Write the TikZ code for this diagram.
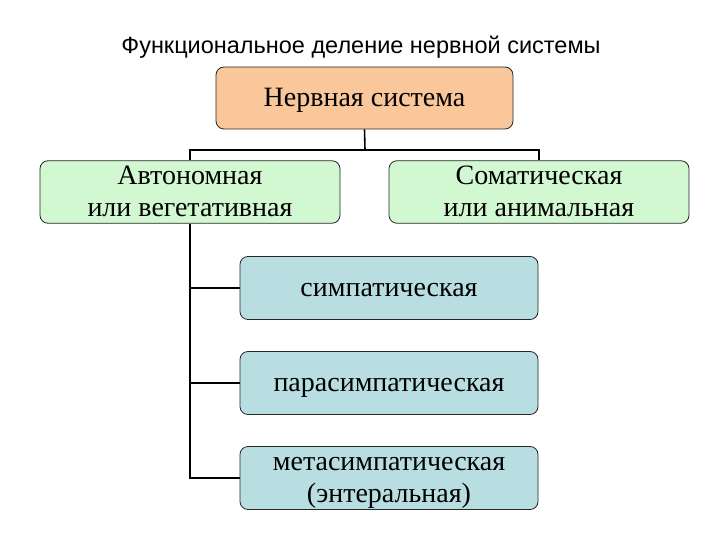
\documentclass[tikz,border=0pt]{standalone}
\usepackage{fontspec}
\setmainfont{Liberation Serif}
\newfontfamily\titlefont{Liberation Sans}
\definecolor{peach}{HTML}{FAC79A}
\definecolor{palegreen}{HTML}{D2F8D2}
\definecolor{paleblue}{HTML}{B9DEE2}
\begin{document}
\begin{tikzpicture}[x=1pt,y=-1pt,
  box/.style={draw=black!85,line width=0.8pt,rounded corners=8pt,inner sep=0pt,align=center,font=\fontsize{28}{32}\selectfont},
  oneline/.style={text height=23pt,text depth=6pt},
  twoline/.style={text height=56pt,text depth=6.5pt},
  topbox/.style={box,fill=peach,minimum width=297pt,minimum height=62pt},
  greenbox/.style={box,fill=palegreen,minimum width=300pt,minimum height=60pt},
  bluebox/.style={box,fill=paleblue,minimum width=298pt,minimum height=63pt},
  conn/.style={line width=1.6pt,black}]
\useasboundingbox (0,0) rectangle (720,540);
\node[font=\titlefont\fontsize{23.5}{26}\selectfont] (title) at (361,47) {Функциональное деление нервной системы};
\node[topbox,oneline] (ns) at (364.5,98) {Нервная система};
\node[greenbox,twoline] (auto) at (190,192) {Автономная\\или вегетативная};
\node[greenbox,twoline] (soma) at (539,192) {Соматическая\\или анимальная};
\node[bluebox,oneline] (sym) at (389,288) {симпатическая};
\node[bluebox,oneline] (para) at (389,383) {парасимпатическая};
\node[bluebox,twoline] (meta) at (389,478) {метасимпатическая\\(энтеральная)};
\coordinate (j) at (365,150);
\draw[conn] (ns.south) -- (j);
\draw[conn] (auto.north) |- (j) -| (soma.north);
\draw[conn] (auto.south) |- (meta.west);
\draw[conn] (sym.west) -- (sym.west -| auto.south);
\draw[conn] (para.west) -- (para.west -| auto.south);
\end{tikzpicture}
\end{document}
